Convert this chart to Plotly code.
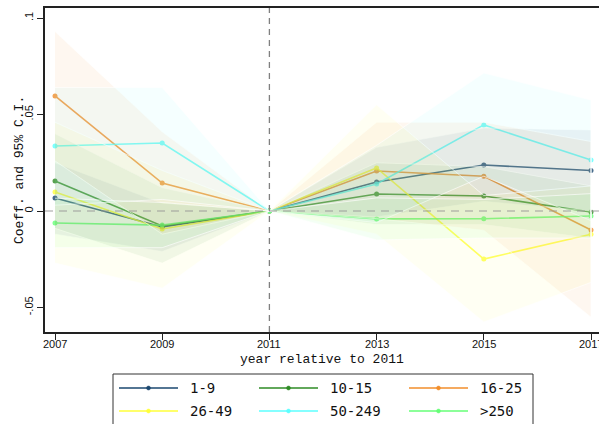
import plotly.graph_objects as go

years = [2007, 2009, 2011, 2013, 2015, 2017]
names = ["1-9", "10-15", "16-25", "26-49", "50-249", ">250"]
line_colors = ["#1a476f", "#2e8b24", "#f28e2b", "#ffff3a", "#5cffff", "#66ff77"]
fill_rgb = ["26,71,111", "46,139,36", "242,142,43", "255,255,90", "120,255,255", "102,255,119"]

coef = {
    "1-9":    [0.0067, -0.0083, 0, 0.0150, 0.0238, 0.0210],
    "10-15":  [0.0155, -0.0078, 0, 0.0088, 0.0078, -0.0005],
    "16-25":  [0.0596, 0.0145, 0, 0.0207, 0.0180, -0.0098],
    "26-49":  [0.0098, -0.0093, 0, 0.0223, -0.0249, -0.0120],
    "50-249": [0.0337, 0.0352, 0, 0.0140, 0.0446, 0.0264],
    ">250":   [-0.0062, -0.0073, 0, -0.0041, -0.0040, -0.0026],
}
ci_lo = {
    "1-9":    [-0.012, -0.021, 0, -0.003, 0.005, 0.000],
    "10-15":  [-0.009, -0.027, 0, -0.007, -0.007, -0.014],
    "16-25":  [0.026, -0.012, 0, -0.004, -0.010, -0.055],
    "26-49":  [-0.027, -0.040, 0, -0.012, -0.0575, -0.037],
    "50-249": [0.003, 0.006, 0, -0.006, 0.018, -0.005],
    ">250":   [-0.019, -0.019, 0, -0.015, -0.014, -0.014],
}
ci_hi = {
    "1-9":    [0.025, 0.004, 0, 0.033, 0.043, 0.042],
    "10-15":  [0.040, 0.012, 0, 0.025, 0.023, 0.013],
    "16-25":  [0.093, 0.041, 0, 0.046, 0.046, 0.036],
    "26-49":  [0.046, 0.021, 0, 0.055, 0.008, 0.013],
    "50-249": [0.064, 0.064, 0, 0.034, 0.0715, 0.0575],
    ">250":   [0.0066, 0.0044, 0, 0.0068, 0.006, 0.009],
}
y_ticks = [0.1, 0.05, 0, -0.05]
y_ticklabels = [".1", ".05", "0", "-.05"]

fig = go.Figure()

# lines with markers (drawn first, CI bands overlay them, as in the original)
for n, c in zip(names, line_colors):
    fig.add_trace(go.Scatter(
        x=years, y=coef[n], mode="lines+markers", name=n, opacity=0.8,
        line=dict(color=c, width=1.6), marker=dict(color=c, size=5),
        showlegend=False, hoverinfo="skip"))

# CI bands
for n, rgb in zip(names, fill_rgb):
    fig.add_trace(go.Scatter(
        x=years + years[::-1], y=ci_hi[n] + ci_lo[n][::-1],
        mode="lines", fill="toself", fillcolor=f"rgba({rgb},0.07)",
        line=dict(color="rgba(255,255,255,0.8)", width=0.8),
        showlegend=False, hoverinfo="skip"))

# reference lines
fig.add_shape(type="line", xref="x", yref="paper", x0=2011, x1=2011, y0=0, y1=1,
              line=dict(color="#808080", width=1.3, dash="6px,5px"))
fig.add_shape(type="line", xref="paper", yref="y", x0=0, x1=1, y0=0, y1=0,
              line=dict(color="rgba(150,150,150,0.6)", width=1.5, dash="8px,6px"))

L, R_, T, B = 45, 599, 8, 332
W, H = R_ - L, B - T
def px(xp):
    return (xp - L) / W
def py(yp):
    return (B - yp) / H

# x tick labels as annotations so the last one is clipped by the page edge like the original
for yv in years:
    fig.add_annotation(xref="x", yref="paper", x=yv, y=py(344), text=str(yv),
                       showarrow=False, xanchor="center", yanchor="middle",
                       font=dict(family="Liberation Sans", size=11, color="#111111"))

# y axis title
fig.add_annotation(xref="paper", yref="paper", x=px(19), y=py(170),
                   text="Coeff. and 95% C.I.", textangle=-90, showarrow=False,
                   xanchor="center", yanchor="middle",
                   font=dict(family="Liberation Mono", size=13, color="#111111"))
# x axis title
fig.add_annotation(xref="paper", yref="paper", x=px(322), y=py(359),
                   text="year relative to 2011", showarrow=False,
                   xanchor="center", yanchor="middle",
                   font=dict(family="Liberation Mono", size=13, color="#111111"))

# custom legend (Stata style)
fig.add_shape(type="rect", xref="paper", yref="paper",
              x0=px(113), x1=px(533), y0=py(440), y1=py(374),
              line=dict(color="#333333", width=1), fillcolor="white", layer="above")
cols = [(119, 178, 188), (259, 318, 328), (409, 468, 478)]
rows = [388, 411]
for i, (n, c) in enumerate(zip(names, line_colors)):
    x0, x1, xt = cols[i % 3]
    yr = rows[i // 3]
    fig.add_shape(type="line", xref="paper", yref="paper",
                  x0=px(x0), x1=px(x1), y0=py(yr), y1=py(yr),
                  line=dict(color=c, width=1.6), layer="above")
    xm = (x0 + x1) / 2
    fig.add_shape(type="circle", xref="paper", yref="paper",
                  x0=px(xm - 2), x1=px(xm + 2), y0=py(yr + 2), y1=py(yr - 2),
                  line=dict(color=c, width=0.5), fillcolor=c, layer="above")
    fig.add_annotation(xref="paper", yref="paper", x=px(xt), y=py(yr),
                       text=n, showarrow=False, xanchor="left", yanchor="middle",
                       font=dict(family="DejaVu Sans Mono", size=14, color="#111111"))

fig.update_layout(
    width=599, height=424,
    margin=dict(l=L, r=0, t=T, b=424 - B),
    paper_bgcolor="white", plot_bgcolor="white",
    showlegend=False,
    xaxis=dict(
        range=[2007 - 10 / 53.6, 2017 + 8 / 53.6],
        tickvals=years, showticklabels=False,
        showgrid=False, zeroline=False,
        showline=True, linecolor="#222222", linewidth=1.5, mirror=True,
        ticks="outside", ticklen=6, tickcolor="#222222",
    ),
    yaxis=dict(
        range=[-(332 - 211) / 1930, (211 - 8) / 1930],
        tickvals=y_ticks, ticktext=y_ticklabels, tickangle=-90,
        showgrid=False, zeroline=False,
        showline=True, linecolor="#222222", linewidth=1.5, mirror=False,
        ticks="outside", ticklen=6, tickcolor="#222222",
        tickfont=dict(family="Liberation Sans", size=11, color="#111111"),
    ),
)

fig.write_html("out.html")
